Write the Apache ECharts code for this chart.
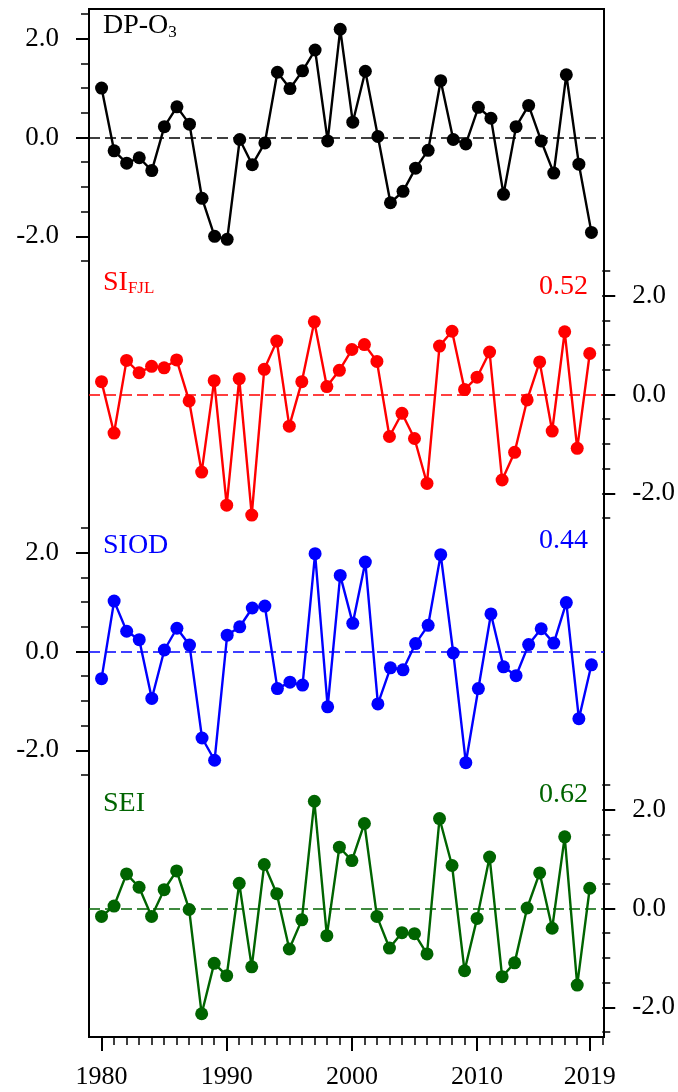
<!DOCTYPE html>
<html>
<head>
<meta charset="utf-8">
<script src="https://cdn.jsdelivr.net/npm/echarts@6/dist/echarts.min.js"></script>
<style>
  html, body { margin: 0; padding: 0; background: #fff; }
  #chart { width: 678px; height: 1092px; }
</style>
</head>
<body>
<div id="chart"></div>
<script>
  // years 1980-2019
  const years = [1980, 1981, 1982, 1983, 1984, 1985, 1986, 1987, 1988, 1989,
    1990, 1991, 1992, 1993, 1994, 1995, 1996, 1997, 1998, 1999,
    2000, 2001, 2002, 2003, 2004, 2005, 2006, 2007, 2008, 2009,
    2010, 2011, 2012, 2013, 2014, 2015, 2016, 2017, 2018, 2019]

  const dpO3 = [1.0, -0.27, -0.52, -0.41, -0.67, 0.22, 0.62, 0.27, -1.23, -2.0,
    -2.06, -0.04, -0.55, -0.11, 1.32, 0.99, 1.35, 1.77, -0.07, 2.19,
    0.31, 1.34, 0.02, -1.32, -1.09, -0.62, -0.26, 1.15, -0.04, -0.13,
    0.61, 0.39, -1.15, 0.22, 0.65, -0.07, -0.72, 1.27, -0.54, -1.92]

  const siFJL = [0.26, -0.78, 0.69, 0.44, 0.57, 0.54, 0.70, -0.13, -1.57, 0.28,
    -2.24, 0.32, -2.44, 0.51, 1.08, -0.64, 0.26, 1.47, 0.16, 0.49,
    0.91, 1.01, 0.67, -0.85, -0.38, -0.89, -1.80, 0.98, 1.28, 0.10,
    0.35, 0.86, -1.73, -1.17, -0.11, 0.66, -0.74, 1.27, -1.09, 0.83]

  const siod = [-0.55, 1.02, 0.41, 0.24, -0.95, 0.03, 0.47, 0.13, -1.75, -2.20,
    0.33, 0.50, 0.88, 0.92, -0.75, -0.62, -0.68, 1.98, -1.12, 1.54,
    0.57, 1.81, -1.06, -0.33, -0.37, 0.16, 0.53, 1.96, -0.03, -2.25,
    -0.75, 0.76, -0.31, -0.49, 0.14, 0.46, 0.17, 0.99, -1.36, -0.27]

  const sei = [-0.16, 0.05, 0.70, 0.43, -0.16, 0.38, 0.76, -0.02, -2.13, -1.11,
    -1.36, 0.51, -1.18, 0.89, 0.30, -0.82, -0.23, 2.17, -0.55, 1.24,
    0.97, 1.72, -0.16, -0.80, -0.49, -0.51, -0.92, 1.82, 0.87, -1.26,
    -0.20, 1.04, -1.38, -1.10, 0.01, 0.72, -0.40, 1.45, -1.55, 0.41]

  const corrFJL = '0.52'
  const corrSIOD = '0.44'
  const corrSEI = '0.62'

  const yMajorTicks = [-2, 0, 2]
  const yMinorTicks = [-2.5, -1.5, -1, -0.5, 0.5, 1, 1.5, 2.5]
  const xMajorTicks = [1980, 1990, 2000, 2010, 2019]
  const xMinorTicks = [1981, 1982, 1983, 1984, 1985, 1986, 1987, 1988, 1989,
    1991, 1992, 1993, 1994, 1995, 1996, 1997, 1998, 1999,
    2001, 2002, 2003, 2004, 2005, 2006, 2007, 2008, 2009,
    2011, 2012, 2013, 2014, 2015, 2016, 2017, 2018, 2020]

  const panels = [
    {name: 'DP-O3', title: 'DP-O{sub|3}', data: dpO3, color: '#000000', side: 'left', corr: ''},
    {name: 'SIFJL', title: 'SI{sub|FJL}', data: siFJL, color: '#ff0000', side: 'right', corr: corrFJL},
    {name: 'SIOD', title: 'SIOD', data: siod, color: '#0000ff', side: 'left', corr: corrSIOD},
    {name: 'SEI', title: 'SEI', data: sei, color: '#006400', side: 'right', corr: corrSEI}
  ]

  const font = 'Liberation Serif'
  const gridTops = [9, 266, 523, 780]
  const gridH = 257
  const lineW = 2

  const grid = []
  const xAxis = []
  const yAxis = []
  const series = []
  const title = []

  panels.forEach((p, g) => {
    grid.push({left: 89, right: 74, top: gridTops[g], height: gridH})

    // main x axis of this grid (only the bottom one is visible)
    const isBottom = g === 3
    xAxis.push({
      gridIndex: g, type: 'value', min: 1979, max: 2020, show: isBottom,
      position: 'bottom',
      axisLine: {show: true, onZero: false, lineStyle: {color: '#000', width: lineW}},
      axisTick: {show: true, customValues: xMajorTicks, length: 14, lineStyle: {color: '#000', width: lineW}},
      axisLabel: {show: true, customValues: xMajorTicks, margin: 27, color: '#000',
        fontFamily: font, fontSize: 26, formatter: v => String(v)},
      splitLine: {show: false}
    })

    // major ticks + labels
    yAxis.push({
      gridIndex: g, type: 'value', min: -2.6, max: 2.6, position: p.side,
      axisLine: {show: false, onZero: false},
      axisTick: {show: true, customValues: yMajorTicks, length: 13, lineStyle: {color: '#000', width: lineW}},
      axisLabel: {show: true, customValues: yMajorTicks, margin: 30, color: '#000',
        fontFamily: font, fontSize: 27, formatter: v => Number(v).toFixed(1)},
      splitLine: {show: false}
    })
    // minor ticks
    yAxis.push({
      gridIndex: g, type: 'value', min: -2.6, max: 2.6, position: p.side,
      axisLine: {show: false, onZero: false},
      axisTick: {show: true, customValues: yMinorTicks, length: 8, lineStyle: {color: '#000', width: 1.5}},
      axisLabel: {show: false},
      splitLine: {show: false}
    })

    series.push({
      name: p.name, type: 'line', xAxisIndex: g, yAxisIndex: g * 2,
      data: years.map((y, i) => [y, p.data[i]]),
      symbol: 'circle', symbolSize: 13,
      itemStyle: {color: p.color},
      lineStyle: {color: p.color, width: 2.4},
      z: 3,
      markLine: {
        silent: true, symbol: 'none', label: {show: false},
        lineStyle: {color: p.color, type: [11, 5], width: 1.5},
        data: [{yAxis: 0}]
      }
    })

    title.push({
      text: p.title, left: 103, top: gridTops[g] + [2, 1.5, 7.5, 8.5][g], padding: 0,
      textStyle: {
        color: p.color, fontFamily: font, fontSize: 28, fontWeight: 'normal', lineHeight: 30,
        rich: {sub: {fontSize: 17, lineHeight: 14, verticalAlign: 'bottom', color: p.color, fontFamily: font}}
      }
    })
    if (p.corr) {
      title.push({
        text: p.corr, right: 90, top: gridTops[g] + [0, 6, 2.5, -0.5][g], padding: 0,
        textStyle: {color: p.color, fontFamily: font, fontSize: 28, fontWeight: 'normal', lineHeight: 30}
      })
    }
  })

  // minor ticks of the bottom x axis
  xAxis.push({
    gridIndex: 3, type: 'value', min: 1979, max: 2020, position: 'bottom',
    axisLine: {show: false, onZero: false},
    axisTick: {show: true, customValues: xMinorTicks, length: 8, lineStyle: {color: '#000', width: 1.5}},
    axisLabel: {show: false},
    splitLine: {show: false}
  })

  // outer frame: one grid over the whole plot area, only its border drawn
  grid.push({left: 89, right: 74, top: 9, height: gridH * 4, show: true,
    borderColor: '#000', borderWidth: lineW, backgroundColor: 'transparent'})
  xAxis.push({gridIndex: 4, type: 'value', min: 1979, max: 2020, show: false})
  yAxis.push({gridIndex: 4, type: 'value', min: 0, max: 4, show: false})

  const myChart = echarts.init(document.getElementById('chart'))
  myChart.setOption({
    animation: false,
    backgroundColor: '#fff',
    title: title,
    grid: grid,
    xAxis: xAxis,
    yAxis: yAxis,
    series: series
  })
</script>
</body>
</html>
